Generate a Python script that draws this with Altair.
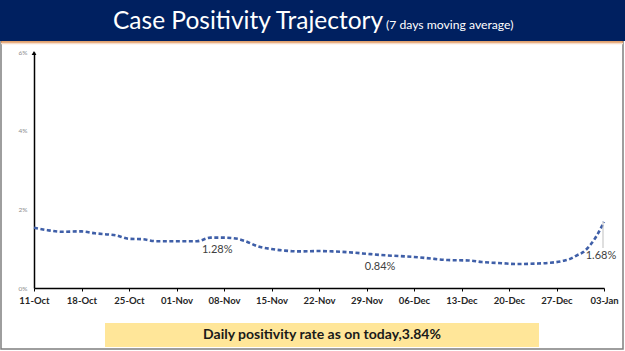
import altair as alt
import pandas as pd

# ---------------- data ----------------
dates = [
    "2020-10-11", "2020-10-13", "2020-10-15", "2020-10-18", "2020-10-20", "2020-10-22",
    "2020-10-23", "2020-10-25", "2020-10-27", "2020-10-29", "2020-11-01", "2020-11-04",
    "2020-11-06", "2020-11-08", "2020-11-10", "2020-11-11", "2020-11-13", "2020-11-15",
    "2020-11-17", "2020-11-19", "2020-11-22", "2020-11-24", "2020-11-27", "2020-11-29",
    "2020-12-01", "2020-12-04", "2020-12-06", "2020-12-09", "2020-12-11", "2020-12-14",
    "2020-12-16", "2020-12-19", "2020-12-21", "2020-12-24", "2020-12-26", "2020-12-28",
    "2020-12-29", "2020-12-30", "2020-12-31", "2021-01-01", "2021-01-02", "2021-01-03",
]
values = [
    1.53, 1.47, 1.43, 1.44, 1.39, 1.36,
    1.34, 1.25, 1.24, 1.19, 1.19, 1.19,
    1.28, 1.28, 1.25, 1.20, 1.06, 0.99,
    0.95, 0.93, 0.94, 0.93, 0.90, 0.87,
    0.84, 0.81, 0.79, 0.74, 0.71, 0.70,
    0.66, 0.63, 0.61, 0.62, 0.64, 0.69,
    0.74, 0.83, 0.92, 1.10, 1.35, 1.68,
]
label_dates = ["2020-11-07", "2020-12-01", "2021-01-03"]
label_values = [1.28, 0.84, 1.68]
label_texts = ["1.28%", "0.84%", "1.68%"]
tick_dates = [(2020, 10, 11), (2020, 10, 18), (2020, 10, 25), (2020, 11, 1), (2020, 11, 8),
              (2020, 11, 15), (2020, 11, 22), (2020, 11, 29), (2020, 12, 6), (2020, 12, 13),
              (2020, 12, 20), (2020, 12, 27), (2021, 1, 3)]
y_ticks = [0, 2, 4, 6]
title_text = "Case Positivity Trajectory"
subtitle_text = "(7 days moving average)"
footer_text = "Daily positivity rate as on today,3.84%"

df = pd.DataFrame({"date": dates, "value": values})
labels = pd.DataFrame({"date": label_dates, "value": label_values, "text": label_texts})
one = pd.DataFrame({"k": [0]})

W, H = 570, 236
PL, PT = 34, 52  # plot origin in page pixels


def dt(t):
    return alt.DateTime(year=t[0], month=t[1], date=t[2], utc=True)


xscale = alt.Scale(type="utc", domain=[dt(tick_dates[0]), dt(tick_dates[-1])])
yscale = alt.Scale(domain=[0, 6])

x_axis = alt.Axis(values=[dt(t) for t in tick_dates],
                  labelExpr="utcFormat(datum.value, '%d-%b')",
                  domainColor="#000000", domainWidth=1.5, tickColor="#000000", tickSize=3,
                  tickWidth=1, labelFont="Lato", labelFontWeight="bold", labelFontSize=9.5,
                  labelColor="#262626", labelPadding=4, grid=False, labelFlush=False)
y_axis = alt.Axis(values=y_ticks, labelExpr="datum.value + '%'", domainColor="#000000",
                  domainWidth=1.5, ticks=False, labelFont="Lato", labelFontSize=6.5,
                  labelColor="#8c8c8c", labelPadding=7, grid=False)


def X():
    return alt.X("date:T", scale=xscale, title=None, axis=x_axis)


def Y():
    return alt.Y("value:Q", scale=yscale, title=None, axis=y_axis)


line = alt.Chart(df).mark_line(
    interpolate="monotone", strokeDash=[4, 2.5], strokeWidth=2.6, color="#3F5FA8"
).encode(x=X(), y=Y())

lab_common = dict(font="Lato", fontSize=11, color="#404040")
lab12 = alt.Chart(labels).transform_filter("datum.text != '1.68%'").mark_text(
    dy=12, **lab_common).encode(x=X(), y=Y(), text="text:N")
lab3 = alt.Chart(labels).transform_filter("datum.text == '1.68%'").mark_text(
    dy=34, dx=-3, **lab_common).encode(x=X(), y=Y(), text="text:N")
leader = alt.Chart(labels).transform_filter("datum.text == '1.68%'").mark_rule(
    color="#bfbfbf", strokeWidth=1, xOffset=-1).encode(
    x=X(), y=Y(), y2=alt.value(196))


def px(x):
    return x - PL


def py(y):
    return y - PT


border = alt.Chart(one).mark_rect(filled=False, stroke="#7f7f7f", strokeWidth=1.5).encode(
    x=alt.value(px(1)), x2=alt.value(px(623)), y=alt.value(py(1)), y2=alt.value(py(349)))
header = alt.Chart(one).mark_rect(color="#002060").encode(
    x=alt.value(px(0)), x2=alt.value(px(625)), y=alt.value(py(0)), y2=alt.value(py(41)))
orange = alt.Chart(one).mark_rule(color="#D9833F", strokeWidth=1.5).encode(
    x=alt.value(px(1)), x2=alt.value(px(623)), y=alt.value(py(42)))
peach = alt.Chart(one).mark_rule(color="#F8DCC8", strokeWidth=1.5).encode(
    x=alt.value(px(1)), x2=alt.value(px(623)), y=alt.value(py(43.5)))
footer_box = alt.Chart(one).mark_rect(color="#FFE699").encode(
    x=alt.value(px(105)), x2=alt.value(px(539)), y=alt.value(py(323)), y2=alt.value(py(347)))
footer = alt.Chart(one).mark_text(
    text=footer_text, font="Lato", fontWeight="bold", fontSize=14, color="#1a1a1a",
    align="center", baseline="middle").encode(x=alt.value(px(322)), y=alt.value(py(335)))
title = alt.Chart(one).mark_text(
    text=title_text, font="Lato", fontSize=24.5, color="#ffffff", align="left",
    baseline="alphabetic").encode(x=alt.value(px(113)), y=alt.value(py(29)))
subtitle = alt.Chart(one).mark_text(
    text=subtitle_text, font="Lato", fontSize=12.2, color="#ffffff", align="left",
    baseline="alphabetic").encode(x=alt.value(px(386)), y=alt.value(py(29)))
arrow = alt.Chart(one).mark_point(shape="triangle-up", filled=True, color="#000000",
                                  size=22, opacity=1).encode(
    x=alt.value(0), y=alt.value(1))

chart = alt.layer(
    border, header, orange, peach, footer_box, footer, title, subtitle,
    line, leader, lab12, lab3, arrow
).properties(
    width=W, height=H,
    padding={"left": PL, "top": PT, "right": 625 - PL - W, "bottom": 351 - PT - H},
    autosize=alt.AutoSizeParams(type="none"),
    background="#ffffff",
).configure_view(stroke=None)

chart.save("out.html", embed_options={"renderer": "svg", "actions": False})
